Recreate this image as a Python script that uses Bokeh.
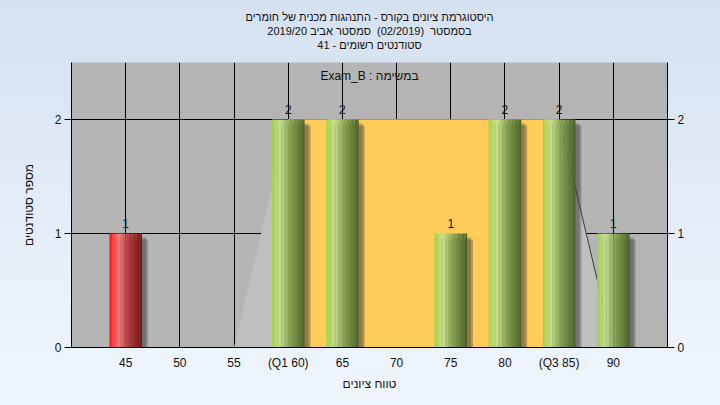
from bokeh.plotting import figure
from bokeh.models import Range1d, LinearAxis, FixedTicker, Label, Title
from bokeh.embed import file_html
from bokeh.resources import INLINE

# ---- data ----
grades = [45, 60, 65, 75, 80, 85, 90]
counts = [1, 2, 2, 1, 2, 2, 1]
passing = [False, True, True, True, True, True, True]
tick_values = [45, 50, 55, 60, 65, 70, 75, 80, 85, 90]
tick_labels = ["45", "50", "55", "(Q1 60)", "65", "70", "75", "80", "(Q3 85)", "90"]
curve_y = [0, 0, 0, 2, 2, 2, 2, 2, 2, 0]
q1, q3 = 60, 85
y_ticks = [0, 1, 2]

title_lines = [
    "היסטוגרמת ציונים בקורס - התנהגות מכנית של חומרים",
    "בסמסטר\u00a0\u00a0(02/2019)\u00a0\u00a0סמסטר אביב 2019/20",
    "סטודנטים רשומים - 41",
]
subtitle = "Exam_B : במשימה"
x_title = "טווח ציונים"
y_title = "מספר סטודנטים"

FONT = "Liberation Sans"

p = figure(width=704, height=389, output_backend="svg", toolbar_location=None,
           x_range=Range1d(40, 95), y_range=Range1d(0, 2.5),
           min_border_left=63, min_border_right=45, min_border_top=53, min_border_bottom=50)
p.background_fill_color = "#b4b4b4"
p.border_fill_alpha = 0
p.outline_line_color = None

# spacer between titles and frame, then titles (added nearest-first)
p.add_layout(Title(text=" ", text_font_size="9px", standoff=0, offset=0), "above")
for line in reversed(title_lines):
    p.add_layout(Title(text=line, align="center", text_font=FONT, text_font_size="11px",
                       text_font_style="normal", text_color="#111111",
                       standoff=0, offset=0), "above")

# grid
p.xgrid.ticker = FixedTicker(ticks=tick_values)
p.ygrid.ticker = FixedTicker(ticks=y_ticks)
for g in (p.xgrid, p.ygrid):
    g.grid_line_color = "black"
    g.grid_line_alpha = 1
    g.grid_line_width = 1

# axes
xa = p.xaxis[0]
xa.ticker = FixedTicker(ticks=tick_values)
xa.major_label_overrides = {v: l for v, l in zip(tick_values, tick_labels)}
xa.major_tick_out = 0
xa.major_tick_in = 0
xa.minor_tick_line_color = None
xa.major_label_standoff = 8
xa.axis_label = x_title
xa.axis_label_standoff = 4
xa.axis_label_text_font_style = "normal"

ya = p.yaxis[0]
ya.ticker = FixedTicker(ticks=y_ticks)
ya.major_tick_out = 7
ya.major_tick_in = 0
ya.minor_tick_line_color = None
ya.major_label_standoff = 3
ya.axis_label = y_title
ya.axis_label_standoff = 16
ya.axis_label_text_font_style = "normal"

ra = LinearAxis(ticker=FixedTicker(ticks=y_ticks))
ra.major_tick_out = 7
ra.major_tick_in = 0
ra.minor_tick_line_color = None
ra.major_label_standoff = 3
p.add_layout(ra, "right")

for ax in (xa, ya, ra):
    ax.axis_line_color = "black"
    ax.major_tick_line_color = "black"
    ax.major_label_text_font = FONT
    ax.major_label_text_font_size = "12px"
    ax.major_label_text_color = "#111111"
    ax.axis_label_text_font = FONT
    ax.axis_label_text_font_size = "12px"
    ax.axis_label_text_color = "#111111"

# background curve area and Q1-Q3 band
p.varea(x=tick_values, y1=[0] * len(tick_values), y2=curve_y, fill_color="#bfbfbf")
p.quad(left=[q1], right=[q3], bottom=[0], top=[max(counts)], fill_color="#ffcc59", line_color=None)
p.line(x=tick_values[:3], y=curve_y[:3], line_color="#3a3a3a", line_width=1)
p.line(x=tick_values[8:], y=curve_y[8:], line_color="#3a3a3a", line_width=1)

# bars with cylinder shading
W = 3.0
px_x = 55.0 / 596.0
px_y = 2.5 / 286.0


def lerp(c1, c2, t):
    return tuple(int(round(a + (b - a) * t)) for a, b in zip(c1, c2))


def grad(stops, t):
    for (t0, c0), (t1, c1) in zip(stops, stops[1:]):
        if t0 <= t <= t1:
            return "#%02x%02x%02x" % lerp(c0, c1, (t - t0) / (t1 - t0) if t1 > t0 else 0)
    return "#%02x%02x%02x" % stops[-1][1]


green = [(0.0, (160, 208, 70)), (0.25, (200, 226, 145)), (0.55, (135, 165, 85)), (1.0, (72, 98, 36))]
red = [(0.0, (255, 15, 15)), (0.12, (250, 60, 60)), (0.3, (240, 125, 125)), (0.6, (180, 55, 55)), (1.0, (118, 18, 18))]

# shadows
for off in (6, 4):
    p.quad(left=[g - W / 2 + off * px_x for g in grades],
           right=[g + W / 2 + off * px_x for g in grades],
           top=[c - off * px_y for c in counts], bottom=[0] * len(grades),
           fill_color="#404040", fill_alpha=0.35, line_color=None)

N = 24
L, R, T, B, C = [], [], [], [], []
for g, c, ok in zip(grades, counts, passing):
    stops = green if ok else red
    for i in range(N):
        L.append(g - W / 2 + W * i / N)
        R.append(g - W / 2 + W * (i + 1) / N + 0.01)
        T.append(c)
        B.append(0)
        C.append(grad(stops, (i + 0.5) / N))
p.quad(left=L, right=R, top=T, bottom=B, fill_color=C, line_color=None)

# value labels
p.text(x=grades, y=counts, text=[str(c) for c in counts], text_align="center",
       text_baseline="bottom", y_offset=-6, text_font_size="12px", text_color="#111111",
       text_font={"value": FONT})

p.add_layout(Label(x=67.5, y=2.5 - 14 * px_y, text=subtitle, text_align="center",
                   text_baseline="middle", text_font=FONT, text_font_size="12px",
                   text_color="#111111"))

html = file_html(p, INLINE)
style = ("<style>html{height:100%;background:linear-gradient(to bottom,#d5e1f1,#f0f6fd);}"
         "body{margin:8px;background:transparent;}</style></head>")
html = html.replace("</head>", style, 1)
open("out.html", "w").write(html)
